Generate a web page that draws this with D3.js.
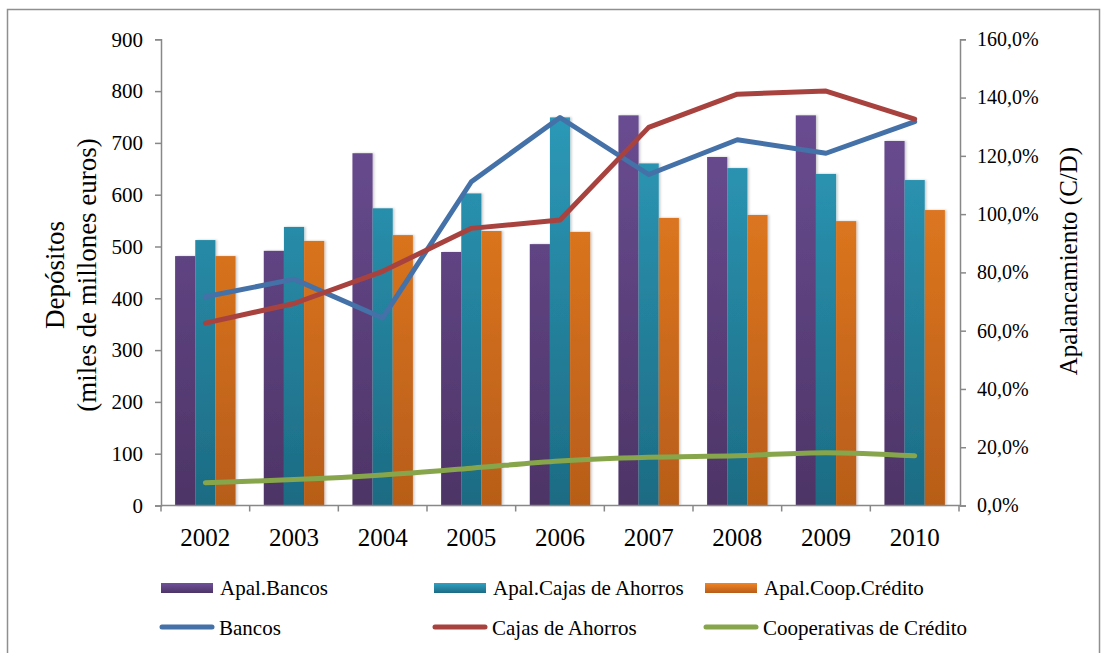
<!DOCTYPE html>
<html>
<head>
<meta charset="utf-8">
<script src="https://cdn.jsdelivr.net/npm/d3@7"></script>
<style>
  html, body { margin: 0; padding: 0; background: #fff; }
  svg { display: block; font-family: "Liberation Serif", "Times New Roman", serif; }
</style>
</head>
<body>
<svg id="chart" width="1107" height="653"></svg>
<script>
// Years on the category axis
const years = ["2002", "2003", "2004", "2005", "2006", "2007", "2008", "2009", "2010"];

// Leverage (credit / deposits), % — bars, right axis
const apalBancos = [85.6, 87.4, 120.9, 87.0, 89.7, 133.9, 119.6, 133.9, 125.1];
const apalCajas  = [91.1, 95.6, 102.0, 107.1, 133.2, 117.4, 115.8, 113.8, 111.7];
const apalCoop   = [85.6, 90.8, 92.8, 94.2, 93.9, 98.7, 99.7, 97.6, 101.4];

// Deposits, thousand million euros — lines, left axis
const depBancos = [403, 437, 362, 625, 749, 639, 706, 680, 741];
const depCajas  = [352, 390, 452, 535, 551, 730, 794, 800, 746];
const depCoop   = [44, 50, 59, 72, 86, 93, 96, 102, 96];

// Axis tick values
const leftTicks  = [0, 100, 200, 300, 400, 500, 600, 700, 800, 900];
const rightTicks = [0, 20, 40, 60, 80, 100, 120, 140, 160];

const barSeries = [
  { name: "Apal.Bancos", values: apalBancos, top: "#6f519a", bottom: "#4d3466" },
  { name: "Apal.Cajas de Ahorros", values: apalCajas, top: "#2fa2c2", bottom: "#1d6b83" },
  { name: "Apal.Coop.Crédito", values: apalCoop, top: "#f28424", bottom: "#b75d19" }
];
const lineSeries = [
  { name: "Bancos", values: depBancos, color: "#4471a8", curve: d3.curveLinear },
  { name: "Cajas de Ahorros", values: depCajas, color: "#a8423f", curve: d3.curveLinear },
  { name: "Cooperativas de Crédito", values: depCoop, color: "#87a64b", curve: d3.curveCatmullRom }
];

const svg = d3.select("#chart");
const plot = { left: 161, right: 959, top: 39.3, bottom: 505.5 };
const axisColor = "#888888";

// Outer frame
svg.append("rect")
  .attr("x", 7.5).attr("y", 9.5).attr("width", 1092).attr("height", 700)
  .attr("fill", "none").attr("stroke", "#8f8f8f").attr("stroke-width", 1.5);

// Scales
const x = d3.scaleBand().domain(years).range([plot.left, plot.right]).padding(0);
const inner = d3.scaleBand().domain(barSeries.map(s => s.name))
  .range([0, x.bandwidth()]).paddingInner(0).paddingOuter(0.7);
const yLeft = d3.scaleLinear().domain([0, 900]).range([plot.bottom, plot.top]);
const yRight = d3.scaleLinear().domain([0, 160]).range([plot.bottom, plot.top]);

// Gradients and bar shadow
const defs = svg.append("defs");
barSeries.forEach((s, i) => {
  const g = defs.append("linearGradient").attr("id", "grad" + i)
    .attr("x1", 0).attr("y1", 0).attr("x2", 0).attr("y2", 1);
  g.append("stop").attr("offset", "0%").attr("stop-color", s.top);
  g.append("stop").attr("offset", "100%").attr("stop-color", s.bottom);
  const gl = defs.append("linearGradient").attr("id", "gradL" + i)
    .attr("gradientUnits", "userSpaceOnUse")
    .attr("x1", 0).attr("y1", plot.top).attr("x2", 0).attr("y2", plot.bottom);
  gl.append("stop").attr("offset", "0%").attr("stop-color", s.top);
  gl.append("stop").attr("offset", "100%").attr("stop-color", s.bottom);
});
const shadow = defs.append("filter").attr("id", "barShadow")
  .attr("x", "-20%").attr("y", "-5%").attr("width", "150%").attr("height", "110%");
shadow.append("feDropShadow").attr("dx", 1.5).attr("dy", 0).attr("stdDeviation", 1.2)
  .attr("flood-color", "#000").attr("flood-opacity", 0.22);

// Bars
barSeries.forEach((s, i) => {
  svg.append("g").attr("filter", "url(#barShadow)")
    .selectAll("rect").data(s.values).join("rect")
    .attr("x", (d, j) => x(years[j]) + inner(s.name))
    .attr("y", d => yRight(d))
    .attr("width", inner.bandwidth())
    .attr("height", d => plot.bottom - yRight(d))
    .attr("fill", "url(#gradL" + i + ")");
});

// Lines
lineSeries.forEach(s => {
  const line = d3.line()
    .x((d, j) => x(years[j]) + x.bandwidth() / 2)
    .y(d => yLeft(d))
    .curve(s.curve);
  svg.append("path").datum(s.values)
    .attr("d", line)
    .attr("fill", "none")
    .attr("stroke", s.color)
    .attr("stroke-width", 5)
    .attr("stroke-linejoin", "round")
    .attr("stroke-linecap", "round");
});

// Left axis
const gl = svg.append("g").attr("transform", `translate(${plot.left},0)`)
  .call(d3.axisLeft(yLeft).tickValues(leftTicks).tickSize(6).tickPadding(12).tickFormat(d3.format("d")));
gl.select(".domain").attr("stroke", axisColor).attr("stroke-width", 1.5);
gl.selectAll(".tick line").attr("stroke", axisColor).attr("stroke-width", 1.5);
gl.selectAll("text").attr("font-size", 21).attr("fill", "#000")
  .attr("font-family", "'Liberation Serif', serif");

// Right axis
const pct = d => d3.format(".1f")(d).replace(".", ",") + "%";
const gr = svg.append("g").attr("transform", `translate(${plot.right + 1},0)`)
  .call(d3.axisRight(yRight).tickValues(rightTicks).tickSize(6).tickPadding(11).tickFormat(pct));
gr.select(".domain").attr("stroke", axisColor).attr("stroke-width", 1.5);
gr.selectAll(".tick line").attr("stroke", axisColor).attr("stroke-width", 1.5);
gr.selectAll("text").attr("font-size", 20).attr("fill", "#000")
  .attr("font-family", "'Liberation Serif', serif");

// Category axis: ticks on band boundaries, labels centred
const gx = svg.append("g").attr("transform", `translate(0,${plot.bottom})`);
gx.append("line").attr("x1", plot.left).attr("x2", plot.right + 1)
  .attr("stroke", axisColor).attr("stroke-width", 1.5);
gx.selectAll("line.tk").data(d3.range(years.length + 1)).join("line")
  .attr("class", "tk")
  .attr("x1", i => plot.left + i * x.step()).attr("x2", i => plot.left + i * x.step())
  .attr("y1", 0).attr("y2", 6)
  .attr("stroke", axisColor).attr("stroke-width", 1.5);
gx.selectAll("text").data(years).join("text")
  .attr("x", d => x(d) + x.bandwidth() / 2)
  .attr("y", 40)
  .attr("text-anchor", "middle")
  .attr("font-size", 25)
  .text(d => d);

// Axis titles
svg.append("text")
  .attr("transform", "translate(64,275) rotate(-90)")
  .attr("text-anchor", "middle").attr("font-size", 27)
  .text("Depósitos");
svg.append("text")
  .attr("transform", "translate(96,275) rotate(-90)")
  .attr("text-anchor", "middle").attr("font-size", 27)
  .text("(miles de millones euros)");
svg.append("text")
  .attr("transform", "translate(1077,261) rotate(-90)")
  .attr("text-anchor", "middle").attr("font-size", 25)
  .text("Apalancamiento (C/D)");

// Legend
const legendCols = [161, 434, 705];
const legend = svg.append("g");
barSeries.forEach((s, i) => {
  const g = legend.append("g").attr("transform", `translate(${legendCols[i]},583)`);
  g.append("rect").attr("width", 52).attr("height", 10).attr("fill", "url(#grad" + i + ")");
  g.append("text").attr("x", 59).attr("y", 12).attr("font-size", 21).text(s.name);
});
lineSeries.forEach((s, i) => {
  const g = legend.append("g").attr("transform", `translate(${legendCols[i]},627)`);
  g.append("line").attr("x1", 1).attr("x2", 51).attr("y1", 0).attr("y2", 0)
    .attr("stroke", s.color).attr("stroke-width", 5).attr("stroke-linecap", "round");
  g.append("text").attr("x", 58).attr("y", 8).attr("font-size", 21).text(s.name);
});
</script>
</body>
</html>
